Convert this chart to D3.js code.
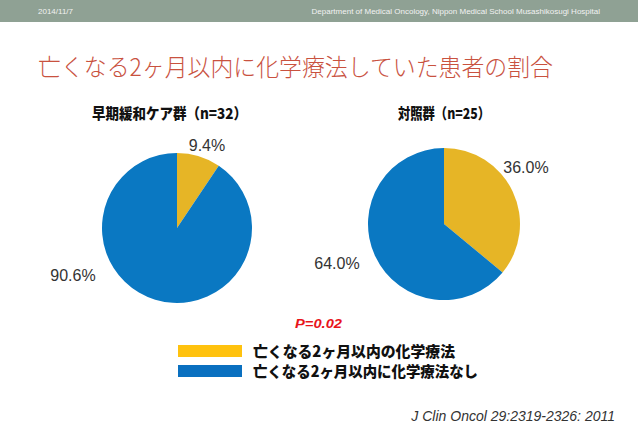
<!DOCTYPE html>
<html>
<head>
<meta charset="utf-8">
<script src="https://cdnjs.cloudflare.com/ajax/libs/d3/7.8.5/d3.min.js"></script>
<style>
  body { margin: 0; background: #fff; }
  svg { display: block; }
</style>
</head>
<body>
<div id="chart"></div>
<script>
// 亡くなる2ヶ月以内の化学療法 — two pie charts
const groups = ['早期緩和ケア群（n=32）', '対照群（n=25）'];
const categories = ['亡くなる2ヶ月以内の化学療法', '亡くなる2ヶ月以内に化学療法なし'];
const earlyValues = [9.4, 90.6];
const controlValues = [36.0, 64.0];
const pieColors = ['#E6B526', '#0A78C2'];
const legendColors = ['#FFC20E', '#0A70C0'];

const width = 638, height = 426;

const svg = d3.select('#chart')
    .append('svg')
    .attr('width', width)
    .attr('height', height);

// ヘッダー
svg.append('rect')
    .attr('width', width)
    .attr('height', 22)
    .attr('fill', '#8FA194');

svg.append('text')
    .attr('x', 38).attr('y', 14)
    .attr('font-family', 'Liberation Sans, sans-serif')
    .attr('font-size', 8)
    .attr('fill', '#f2f2f2')
    .text('2014/11/7');

svg.append('text')
    .attr('x', 600).attr('y', 14)
    .attr('text-anchor', 'end')
    .attr('font-family', 'Liberation Sans, sans-serif')
    .attr('font-size', 8)
    .attr('fill', '#f2f2f2')
    .text('Department of Medical Oncology, Nippon Medical School Musashikosugi Hospital');

// タイトル
svg.append('text')
    .attr('x', 38).attr('y', 76)
    .attr('font-family', 'Noto Sans CJK JP, sans-serif')
    .attr('font-size', 24)
    .attr('font-weight', 300)
    .attr('textLength', 515)
    .attr('lengthAdjust', 'spacingAndGlyphs')
    .attr('fill', '#C9523F')
    .text('亡くなる2ヶ月以内に化学療法していた患者の割合');

// パネル
const panels = [
    { title: groups[0], values: earlyValues, cx: 177, cy: 228, r: 75, tx: 92, tw: 155,
      labels: [[207, 151, 'middle'], [73, 281, 'middle']] },
    { title: groups[1], values: controlValues, cx: 444, cy: 224, r: 76, tx: 398, tw: 92,
      labels: [[526, 173, 'middle'], [337, 269, 'middle']] }
];

const pie = d3.pie().sort(null).value(d => d);
const arc = d3.arc().innerRadius(0);

panels.forEach(p => {
    svg.append('text')
        .attr('x', p.tx).attr('y', 119)
        .attr('font-family', 'Noto Sans CJK JP, sans-serif')
        .attr('font-size', 15)
        .attr('font-weight', 900)
        .attr('textLength', p.tw)
        .attr('lengthAdjust', 'spacingAndGlyphs')
        .attr('fill', '#111')
        .text(p.title);

    const g = svg.append('g')
        .attr('transform', `translate(${p.cx},${p.cy})`);

    g.selectAll('path')
        .data(pie(p.values))
        .enter().append('path')
        .attr('d', d => arc.outerRadius(p.r)(d))
        .attr('fill', (d, i) => pieColors[i]);

    p.values.forEach((v, i) => {
        const l = p.labels[i];
        svg.append('text')
            .attr('x', l[0]).attr('y', l[1])
            .attr('text-anchor', l[2])
            .attr('font-family', 'Liberation Sans, Arial, sans-serif')
            .attr('font-size', 16)
            .attr('fill', '#333')
            .text(v.toFixed(1) + '%');
    });
});

// P値
svg.append('text')
    .attr('x', 295).attr('y', 328)
    .attr('font-family', 'Liberation Sans, Arial, sans-serif')
    .attr('font-size', 13)
    .attr('font-style', 'italic')
    .attr('font-weight', 'bold')
    .attr('fill', '#E8141B')
    .attr('textLength', 47)
    .attr('lengthAdjust', 'spacingAndGlyphs')
    .text('P=0.02');

// 凡例
const legend = svg.append('g');
categories.forEach((c, i) => {
    const y = 345 + i * 20;
    legend.append('rect')
        .attr('x', 178).attr('y', y)
        .attr('width', 64).attr('height', 12)
        .attr('fill', legendColors[i]);
    legend.append('text')
        .attr('x', 253).attr('y', y + 12)
        .attr('font-family', 'Noto Sans CJK JP, sans-serif')
        .attr('font-size', 15)
        .attr('font-weight', 900)
        .attr('fill', '#111')
        .attr('textLength', i === 0 ? 202 : 225)
        .attr('lengthAdjust', 'spacingAndGlyphs')
        .text(c);
});

// 出典
svg.append('text')
    .attr('x', 615).attr('y', 421)
    .attr('text-anchor', 'end')
    .attr('font-family', 'Liberation Sans, Arial, sans-serif')
    .attr('font-size', 14)
    .attr('font-style', 'italic')
    .attr('fill', '#333')
    .text('J Clin Oncol 29:2319-2326: 2011');
</script>
</body>
</html>
